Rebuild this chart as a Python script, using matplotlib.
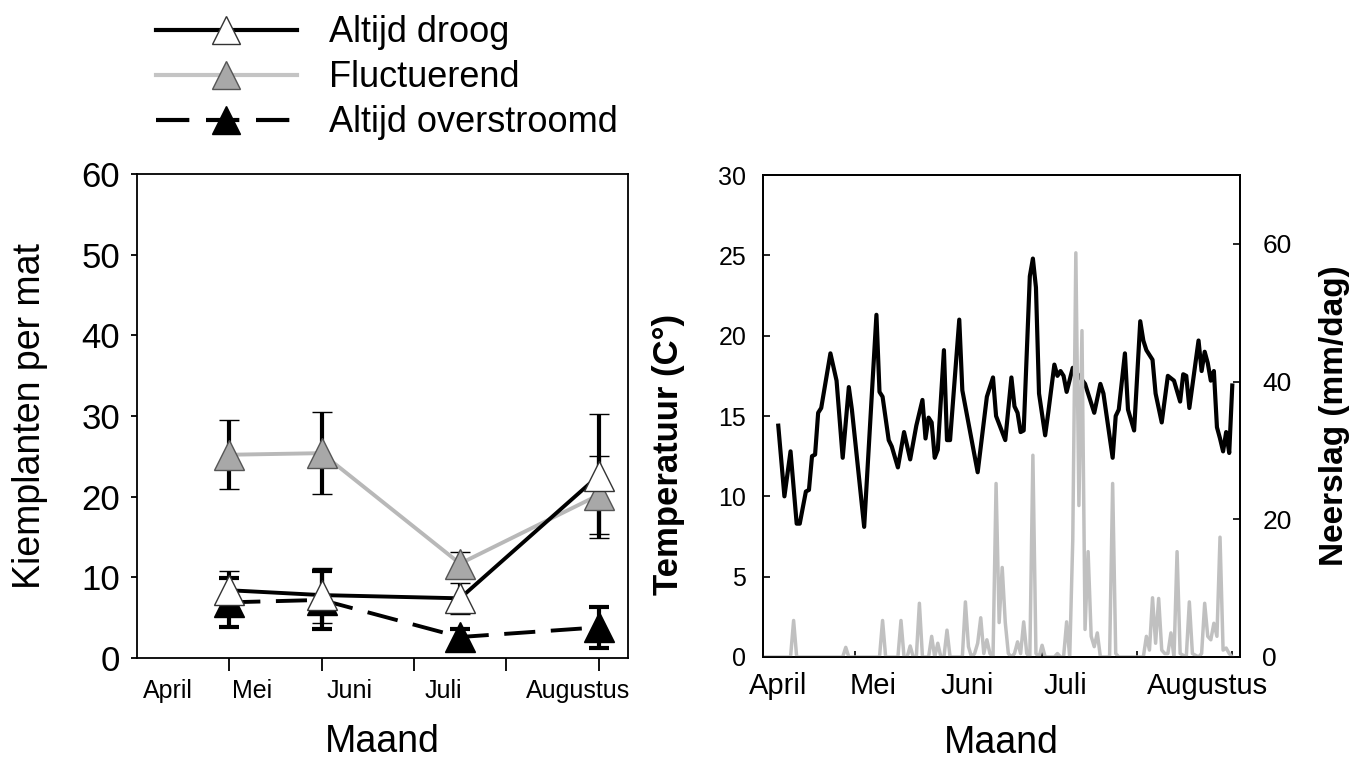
import matplotlib
matplotlib.use("Agg")
import matplotlib.pyplot as plt
from matplotlib.lines import Line2D

plt.rcParams['font.family'] = ['Liberation Sans', 'DejaVu Sans']

# --- seedlings per mat, sampled in months after 1 April ---
sample_month = [1.0, 2.0, 3.5, 5.0]
droog = [8.4, 7.8, 7.4, 22.6]
droog_err = [2.4, 3.4, 1.9, 7.7]
fluct = [25.2, 25.4, 11.7, 20.2]
fluct_err = [4.3, 5.1, 1.5, 4.8]
overstroomd = [6.9, 7.2, 2.6, 3.8]
overstroomd_err = [3.0, 3.6, 1.0, 2.5]

month_names = ['April', 'Mei', 'Juni', 'Juli', 'Augustus']
left_label_pos = [0.33, 1.25, 2.3, 3.32, 4.78]
left_month_ticks = [1, 2, 3, 4, 5]

# --- daily weather, days after 1 April ---
temp_day = [5, 7, 9, 11, 12, 14, 15, 16, 17, 18, 19, 22, 24, 26, 28, 29, 33, 37,
            38, 39, 41, 42, 44, 46, 48, 50, 52, 53, 54, 55, 56, 57, 59, 60, 61,
            64, 65, 70, 73, 75, 76, 79, 81, 82, 83, 84, 85, 87, 88, 89, 90, 92,
            93, 95, 96, 97, 98, 99, 101, 105, 108, 110, 111, 114, 115, 116, 118,
            119, 121, 123, 124, 125, 127, 128, 130, 132, 134, 136, 137, 138, 139,
            142, 143, 144, 145, 146, 147, 148, 149, 150, 151, 152, 153]
temp_c = [14.4, 10.0, 12.8, 8.3, 8.3, 10.3, 10.4, 12.5, 12.6, 15.2, 15.5, 18.9,
          17.2, 12.4, 16.8, 15.4, 8.1, 21.3, 16.5, 16.2, 13.5, 13.1, 11.8, 14.0,
          12.3, 14.4, 16.0, 13.6, 14.9, 14.6, 12.4, 12.9, 19.1, 13.5, 13.5, 21.0,
          16.6, 11.5, 16.2, 17.4, 15.0, 13.5, 17.4, 15.6, 15.2, 14.0, 14.1, 23.7,
          24.8, 23.0, 16.4, 13.8, 15.2, 18.2, 17.5, 17.8, 17.5, 16.5, 18.0, 17.0,
          15.2, 17.0, 16.4, 12.4, 15.0, 15.4, 18.9, 15.4, 14.1, 20.9, 19.7, 19.1,
          18.5, 16.4, 14.6, 17.5, 17.2, 15.9, 17.6, 17.5, 15.5, 19.7, 17.8, 19.0,
          18.3, 17.2, 17.8, 14.3, 13.6, 12.8, 14.0, 12.7, 16.9]

rain_day = [0, 9, 10, 11, 26, 27, 28, 38, 39, 40, 44, 45, 46, 47, 48, 49, 50, 51,
            52, 54, 55, 56, 57, 58, 59, 60, 61, 65, 66, 67, 68, 69, 70, 71, 72, 73,
            74, 75, 76, 77, 78, 79, 80, 81, 82, 83, 84, 85, 86, 87, 88, 89, 90, 91,
            92, 95, 96, 97, 98, 99, 100, 101, 102, 103, 104, 105, 106, 107, 108,
            109, 110, 113, 114, 115, 116, 124, 125, 126, 127, 128, 129, 130, 131,
            132, 133, 134, 135, 136, 138, 139, 140, 142, 143, 144, 145, 146, 147,
            148, 149, 150, 151, 152, 153]
rain_mm = [0, 0, 5.3, 0, 0, 1.4, 0, 0, 5.3, 0, 0, 5.3, 0, 0, 1.6, 0, 0, 7.8,
           0, 0, 3.0, 0, 2.0, 0, 0, 3.9, 0, 0, 8.0, 1.5, 0, 0.5, 2.0, 5.7, 0.5, 2.5,
           0.5, 0, 25.2, 5.0, 13.0, 5.0, 0.5, 0, 0.5, 2.2, 0.5, 5.1, 0.5, 0, 29.3, 0.5, 0, 1.7,
           0, 0, 0.5, 0, 0, 5.1, 0, 17.0, 58.7, 22.0, 47.4, 4.0, 15.3, 3.0, 1.5,
           3.5, 0, 0, 25.2, 0.5, 0, 0, 3.0, 1.0, 8.6, 2.0, 8.5, 1.0, 0.5,
           0.5, 3.5, 0, 15.3, 0.5, 0, 8.0, 0.5, 0, 0.5, 7.8, 3.0, 2.5, 4.9,
           3.0, 17.4, 1.0, 1.3, 0.5, 0]

right_label_pos = [5, 36, 66.5, 98.5, 145]
right_month_ticks = [30, 61, 91, 122, 153]

fig = plt.figure(figsize=(13.68, 7.62), dpi=100)

# ---------------- left: seedlings ----------------
ax1 = fig.add_axes([0.1001, 0.1365, 0.359, 0.635])
eb = dict(ecolor='k', elinewidth=3, capsize=7, capthick=3, ms=21)
ax1.errorbar(sample_month, overstroomd, yerr=overstroomd_err, color='k', lw=2.8,
             ls=(0, (8, 4)), marker='^', mfc='k', mec='k', **eb)
ax1.errorbar(sample_month, fluct, yerr=fluct_err, color='#b8b8b8', lw=2.8,
             marker='^', mfc='#a8a8a8', mec='#555555', mew=1, **eb)
ax1.errorbar(sample_month, droog, yerr=droog_err, color='k', lw=2.8,
             marker='^', mfc='white', mec='#333333', mew=1, **eb)

ax1.set_xlim(0, 5.32)
ax1.set_ylim(0, 60)
ax1.set_yticks(range(0, 61, 10))
ax1.set_xticks(left_month_ticks)
ax1.set_xticklabels([''] * len(left_month_ticks))
ax1.set_xticks(left_label_pos, month_names, minor=True)
ax1.tick_params(axis='x', which='major', direction='out', length=9, width=1.3)
ax1.tick_params(axis='x', which='minor', length=0, pad=15, labelsize=18)
ax1.tick_params(axis='y', direction='out', length=4, width=1.3, pad=8, labelsize=25)
ax1.set_ylabel('Kiemplanten per mat', fontsize=27, labelpad=24)
ax1.set_xlabel('Maand', fontsize=27, labelpad=15)
for s in ax1.spines.values():
    s.set_linewidth(1.3)

handles = [
    Line2D([], [], color='k', lw=3, marker='^', ms=20, mfc='white', mec='#333333'),
    Line2D([], [], color='#c4c4c4', lw=3, marker='^', ms=20, mfc='#a8a8a8', mec='#555555'),
    Line2D([], [], color='k', lw=3, ls=(0, (8, 4)), marker='^', ms=20, mfc='k', mec='k'),
]
fig.legend(handles, ['Altijd droog', 'Fluctuerend', 'Altijd overstroomd'],
           loc='upper left', bbox_to_anchor=(0.114, 0.98), frameon=False,
           fontsize=26, handlelength=3.9, handletextpad=0.9, labelspacing=0.28,
           borderpad=0, borderaxespad=0)

# ---------------- right: temperature and rainfall ----------------
ax2 = fig.add_axes([0.5577, 0.1378, 0.3487, 0.6325])
ax2.plot(temp_day, temp_c, color='k', lw=3.0)
ax2.set_xlim(0, 155.5)
ax2.set_ylim(0, 30)
ax2.set_yticks(range(0, 31, 5))
ax2.set_xticks(right_month_ticks)
ax2.set_xticklabels([''] * len(right_month_ticks))
ax2.set_xticks(right_label_pos, month_names, minor=True)
ax2.tick_params(axis='x', which='major', direction='in', length=4, width=1.2)
ax2.tick_params(axis='x', which='minor', length=0, pad=11, labelsize=21)
ax2.tick_params(axis='y', direction='in', length=5, width=1.2, pad=12, labelsize=18)
ax2.set_ylabel('Temperatuur (C°)', fontsize=25, fontweight='bold')
ax2.yaxis.set_label_coords(-0.163, 0.42)
ax2.set_xlabel('Maand', fontsize=27, labelpad=18)

ax3 = ax2.twinx()
ax3.plot(rain_day, rain_mm, color='#c0c0c0', lw=2.5)
ax3.set_ylim(0, 70)
ax3.set_yticks([0, 20, 40, 60])
ax3.tick_params(axis='y', direction='in', length=5, width=1.2, pad=16, labelsize=19)
ax3.set_ylabel('Neerslag (mm/dag)', fontsize=24, fontweight='bold', labelpad=20)
for a in (ax2, ax3):
    for s in a.spines.values():
        s.set_linewidth(1.3)

fig.savefig('out.png', dpi=100)
